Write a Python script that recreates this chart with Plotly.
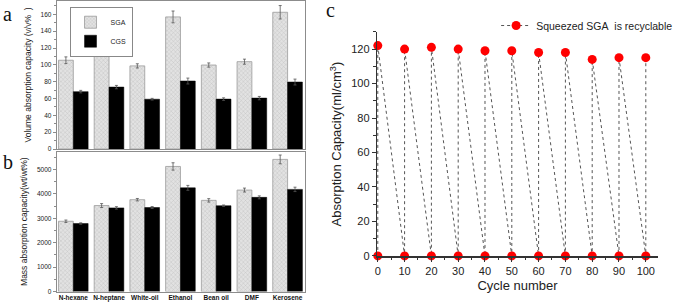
import plotly.graph_objects as go

# ---------------- data ----------------
solvents = ["N-hexane", "N-heptane", "White-oil", "Ethanol", "Bean oil", "DMF", "Kerosene"]

vol_sga = [105.5, 126, 98.8, 157, 99.8, 103.8, 162.5]
vol_sga_err = [4, 4, 2.5, 7, 2.5, 3, 8]
vol_cgs = [68.2, 73.6, 59.2, 80.8, 59.3, 60.5, 79.6]
vol_cgs_err = [1.5, 2, 1, 3.5, 1.5, 2, 3.5]

mass_sga = [2878, 3520, 3760, 5120, 3733, 4154, 5408]
mass_sga_err = [50, 80, 50, 150, 70, 80, 180]
mass_cgs = [2784, 3425, 3440, 4245, 3513, 3856, 4182]
mass_cgs_err = [30, 50, 40, 100, 30, 60, 90]

cycles = [0, 10, 20, 30, 40, 50, 60, 70, 80, 90, 100]
cycle_absorbed = [122, 120, 121, 120, 119, 119, 118, 118, 114, 115, 115]
cycle_squeezed = [0, 0, 0, 0, 0, 0, 0, 0, 0, 0, 0]

# zig-zag sequence: squeezed -> absorbed -> next squeezed ...
seq_x, seq_y = [], []
for c, lo, hi in zip(cycles, cycle_squeezed, cycle_absorbed):
    seq_x += [c, c]
    seq_y += [lo, hi]

FONT = "Liberation Sans, Arial, sans-serif"
SERIF = "Liberation Serif, Times New Roman, serif"
GRID = "#8c8c8c"

fig = go.Figure()

sga_style = dict(
    color="#dcdcdc",
    line=dict(color="#9a9a9a", width=0.8),
    pattern=dict(shape="x", size=3, solidity=0.25, fgcolor="#9a9a9a", bgcolor="#e2e2e2"),
)
cgs_style = dict(color="#000000", line=dict(color="#000000", width=0.5))

err_style = dict(type="data", color="#555555", thickness=0.8, width=1.5)

fig.add_trace(go.Bar(x=solvents, y=vol_sga, name="SGA", marker=sga_style,
                     error_y=dict(array=vol_sga_err, **err_style),
                     xaxis="x", yaxis="y", legend="legend"))
fig.add_trace(go.Bar(x=solvents, y=vol_cgs, name="CGS", marker=cgs_style,
                     error_y=dict(array=vol_cgs_err, **err_style),
                     xaxis="x", yaxis="y", legend="legend"))
fig.add_trace(go.Bar(x=solvents, y=mass_sga, name="SGA", marker=sga_style, showlegend=False,
                     error_y=dict(array=mass_sga_err, **err_style),
                     xaxis="x2", yaxis="y2"))
fig.add_trace(go.Bar(x=solvents, y=mass_cgs, name="CGS", marker=cgs_style, showlegend=False,
                     error_y=dict(array=mass_cgs_err, **err_style),
                     xaxis="x2", yaxis="y2"))

fig.add_trace(go.Scatter(x=seq_x, y=seq_y, mode="lines+markers",
                         name="Squeezed SGA\u00a0 is recyclable",
                         line=dict(color="#555555", width=1, dash="dot"),
                         marker=dict(color="#ff0000", size=9, line=dict(width=0)),
                         xaxis="x3", yaxis="y3", legend="legend2", cliponaxis=False))

ab_dom = [0.084, 0.452]
tickfont_small = dict(family=FONT, size=6.5, color="#222")

fig.update_layout(
    width=675, height=306,
    margin=dict(l=0, r=0, t=0, b=0, autoexpand=False),
    paper_bgcolor="white", plot_bgcolor="white",
    barmode="group", bargap=0.17, bargroupgap=0,
    font=dict(family=FONT, color="#222"),
    xaxis=dict(domain=ab_dom, anchor="y", range=[-0.465, 6.49], showticklabels=False,
               showline=True, linecolor=GRID, linewidth=1, mirror=True, ticks="",
               showgrid=False, type="category", automargin=False),
    yaxis=dict(domain=[0.513, 0.997], anchor="x", range=[0, 176], automargin=False,
               tickvals=[0, 20, 40, 60, 80, 100, 120, 140, 160],
               showline=True, linecolor=GRID, linewidth=1, mirror=True,
               ticks="outside", ticklen=3, tickcolor=GRID, tickfont=tickfont_small,
               minor=dict(dtick=10, ticks="outside", ticklen=2, tickcolor=GRID),
               showgrid=False, zeroline=False,
               title=dict(text="Volume absorption capacity (v/v%  )",
                          font=dict(family=FONT, size=8.5, color="#222"), standoff=7)),
    xaxis2=dict(domain=ab_dom, anchor="y2", range=[-0.465, 6.49], type="category",
                showline=True, linecolor=GRID, linewidth=1, mirror=True, ticks="",
                tickangle=0, automargin=False,
                tickfont=dict(family=FONT, size=6.5, color="#111", weight="bold"),
                showgrid=False),
    yaxis2=dict(domain=[0.047, 0.504], anchor="x2", range=[0, 5720], automargin=False,
                tickvals=[0, 1000, 2000, 3000, 4000, 5000],
                showline=True, linecolor=GRID, linewidth=1, mirror=True,
                ticks="outside", ticklen=3, tickcolor=GRID, tickfont=tickfont_small,
                minor=dict(dtick=500, ticks="outside", ticklen=2, tickcolor=GRID),
                showgrid=False, zeroline=False,
                title=dict(text="Mass absorption capacity(wt/wt%)",
                           font=dict(family=FONT, size=8.5, color="#222"), standoff=7)),
    xaxis3=dict(domain=[0.5585, 0.975], anchor="y3", range=[-0.3, 104.6], automargin=False,
                tickvals=[0, 10, 20, 30, 40, 50, 60, 70, 80, 90, 100],
                showline=True, linecolor="#333", linewidth=1.2,
                ticks="outside", ticklen=4, tickcolor="#333",
                minor=dict(dtick=5, ticks="outside", ticklen=2.5, tickcolor="#333"),
                tickfont=dict(family=FONT, size=11, color="#222"),
                showgrid=False, zeroline=False,
                title=dict(text="Cycle number", font=dict(family=FONT, size=13, color="#222"),
                           standoff=5)),
    yaxis3=dict(domain=[0.162, 0.896], anchor="x3", range=[-0.3, 130], automargin=False,
                tickvals=[0, 20, 40, 60, 80, 100, 120],
                showline=True, linecolor="#333", linewidth=1.2,
                ticks="outside", ticklen=4, tickcolor="#333",
                minor=dict(dtick=10, ticks="outside", ticklen=2.5, tickcolor="#333"),
                tickfont=dict(family=FONT, size=11, color="#222"),
                showgrid=False, zeroline=False,
                title=dict(text="Absorption Capacity(ml/cm<sup>3</sup>)",
                           font=dict(family=FONT, size=13, color="#222"), standoff=6)),
    legend=dict(x=0.103, y=0.978, xanchor="left", yanchor="top",
                bordercolor="#888", borderwidth=1, bgcolor="white",
                font=dict(family=FONT, size=7, color="#222"),
                itemwidth=30, tracegroupgap=0),
    legend2=dict(x=0.735, y=0.964, xanchor="left", yanchor="top",
                 bgcolor="rgba(0,0,0,0)",
                 font=dict(family=FONT, size=10.5, color="#222"), itemwidth=30),
    annotations=[
        dict(text="a", x=0.002, y=0.955, xref="paper", yref="paper", showarrow=False,
             xanchor="left", yanchor="middle", font=dict(family=SERIF, size=20, color="#111")),
        dict(text="b", x=0.002, y=0.47, xref="paper", yref="paper", showarrow=False,
             xanchor="left", yanchor="middle", font=dict(family=SERIF, size=20, color="#111")),
        dict(text="c", x=0.48, y=0.968, xref="paper", yref="paper", showarrow=False,
             xanchor="left", yanchor="middle", font=dict(family=SERIF, size=20, color="#111")),
    ],
)

fig.write_html("out.html", config={"displayModeBar": False, "staticPlot": True},
               post_script="document.body.style.margin='0';document.body.style.padding='0';")
